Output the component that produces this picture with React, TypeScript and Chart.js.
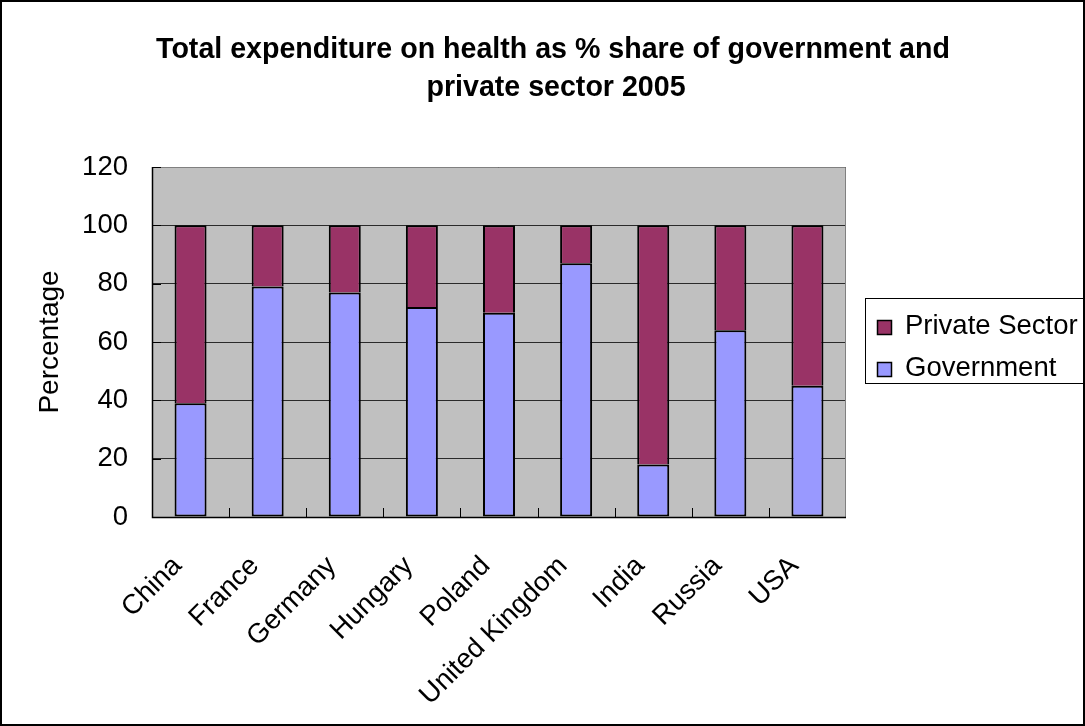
import React, { useEffect, useRef } from 'react';
import { Chart, registerables } from 'chart.js';

Chart.register(...registerables);

const TITLE_LINES = [
  'Total expenditure on health as % share of government and',
  'private sector 2005',
];
const Y_TITLE = 'Percentage';
const categories = ['China', 'France', 'Germany', 'Hungary', 'Poland', 'United Kingdom', 'India', 'Russia', 'USA'];
const government = [39, 79, 77, 72, 70, 87, 18, 64, 45];
const privateSector = [61, 21, 23, 28, 30, 13, 82, 36, 55];
const seriesNames = ['Government', 'Private Sector'];
const seriesColors = ['#9999FF', '#993366'];
const Y_MIN = 0;
const Y_MAX = 120;
const Y_STEP = 20;

const FONT_FAMILY = '"Liberation Sans", Arial, sans-serif';

const decor = {
  id: 'decor',
  beforeDraw(chart: any) {
    const { ctx, chartArea: a } = chart;
    ctx.save();
    ctx.fillStyle = '#ffffff';
    ctx.fillRect(0, 0, chart.width, chart.height);
    ctx.fillStyle = '#C0C0C0';
    ctx.fillRect(a.left, a.top, a.right - a.left, a.bottom - a.top);
    ctx.restore();
  },
  afterDatasetsDraw(chart: any) {
    const { ctx, chartArea: a } = chart;
    const xs = chart.scales.x;
    const ys = chart.scales.y;
    ctx.save();
    ctx.strokeStyle = '#808080';
    ctx.lineWidth = 1;
    ctx.beginPath();
    ctx.moveTo(a.left, a.top + 0.5);
    ctx.lineTo(a.right - 0.5, a.top + 0.5);
    ctx.lineTo(a.right - 0.5, a.bottom);
    ctx.stroke();
    ctx.strokeStyle = '#000000';
    ctx.lineWidth = 1.5;
    ctx.beginPath();
    ctx.moveTo(a.left + 0.5, a.top);
    ctx.lineTo(a.left + 0.5, a.bottom + 0.5);
    ctx.lineTo(a.right, a.bottom + 0.5);
    ctx.stroke();
    ctx.lineWidth = 1;
    ctx.beginPath();
    for (let i = 0; i < categories.length - 1; i++) {
      const x = Math.round((xs.getPixelForValue(i) + xs.getPixelForValue(i + 1)) / 2) + 0.5;
      ctx.moveTo(x, a.bottom);
      ctx.lineTo(x, a.bottom - 9);
    }
    for (let v = Y_MIN; v <= Y_MAX; v += Y_STEP) {
      const y = Math.round(ys.getPixelForValue(v)) + 0.5;
      ctx.moveTo(a.left, y);
      ctx.lineTo(a.left + 9, y);
    }
    ctx.stroke();
    ctx.restore();
  },
  afterDraw(chart: any) {
    const { ctx } = chart;
    ctx.save();
    ctx.fillStyle = '#000';
    ctx.textAlign = 'center';
    ctx.textBaseline = 'alphabetic';
    ctx.font = `bold 28.6px ${FONT_FAMILY}`;
    ctx.fillText(TITLE_LINES[0], 553, 58);
    ctx.fillText(TITLE_LINES[1], 556, 96);
    ctx.strokeStyle = '#000';
    ctx.lineWidth = 1;
    ctx.strokeRect(865.5, 298.5, 240, 85);
    ctx.font = `27.5px ${FONT_FAMILY}`;
    ctx.textAlign = 'left';
    const ds = chart.data.datasets;
    const order = [1, 0];
    order.forEach((di, k) => {
      const baseY = 334 + k * 42;
      ctx.fillStyle = ds[di].backgroundColor;
      ctx.fillRect(877, baseY - 14, 15, 15);
      ctx.lineWidth = 1.5;
      ctx.strokeRect(877.5, baseY - 13.5, 14, 14);
      ctx.fillStyle = '#000';
      ctx.fillText(ds[di].label, 905, baseY);
    });
    ctx.lineWidth = 2;
    ctx.strokeRect(1, 1, chart.width - 2, chart.height - 2);
    ctx.restore();
  },
};

export default function App() {
  const ref = useRef<HTMLCanvasElement | null>(null);

  useEffect(() => {
    document.body.style.margin = '0';
    const canvas = ref.current;
    if (!canvas) return;
    const chart = new Chart(canvas, {
      type: 'bar',
      data: {
        labels: categories,
        datasets: [
          {
            label: seriesNames[0],
            data: government,
            backgroundColor: seriesColors[0],
            borderColor: '#000',
            borderWidth: 2,
            borderSkipped: false,
            categoryPercentage: 1,
            barPercentage: 0.415,
          },
          {
            label: seriesNames[1],
            data: privateSector,
            backgroundColor: seriesColors[1],
            borderColor: '#000',
            borderWidth: 2,
            borderSkipped: 'start',
            categoryPercentage: 1,
            barPercentage: 0.415,
          },
        ],
      },
      options: {
        responsive: false,
        animation: false,
        devicePixelRatio: 1,
        layout: { padding: { top: 167, right: 239, bottom: 0, left: 0 } },
        plugins: {
          legend: { display: false },
          title: { display: false },
          tooltip: { enabled: false },
        },
        scales: {
          x: {
            stacked: true,
            grid: { display: false, drawTicks: false },
            border: { display: false },
            ticks: {
              font: { family: FONT_FAMILY, size: 27.5 },
              color: '#000',
              minRotation: 45,
              maxRotation: 45,
              autoSkip: false,
              padding: 33,
              labelOffset: -13,
            },
            afterFit(s: any) {
              s.height = 209;
            },
          },
          y: {
            stacked: true,
            min: Y_MIN,
            max: Y_MAX,
            ticks: { stepSize: Y_STEP, font: { family: FONT_FAMILY, size: 27.5 }, color: '#000', padding: 24 },
            grid: { color: '#2a2a2a', lineWidth: 1, drawTicks: false },
            border: { display: false },
            title: {
              display: true,
              text: Y_TITLE,
              font: { family: FONT_FAMILY, size: 28 },
              color: '#000',
              padding: { top: 33, bottom: 0 },
            },
            afterFit(s: any) {
              s.width = 152;
            },
          },
        },
      },
      plugins: [decor],
    });
    return () => chart.destroy();
  }, []);

  return (
    <div style={{ position: 'absolute', left: 0, top: 0, width: 1085, height: 726 }}>
      <canvas ref={ref} width={1085} height={726} style={{ display: 'block', width: 1085, height: 726 }} />
    </div>
  );
}
